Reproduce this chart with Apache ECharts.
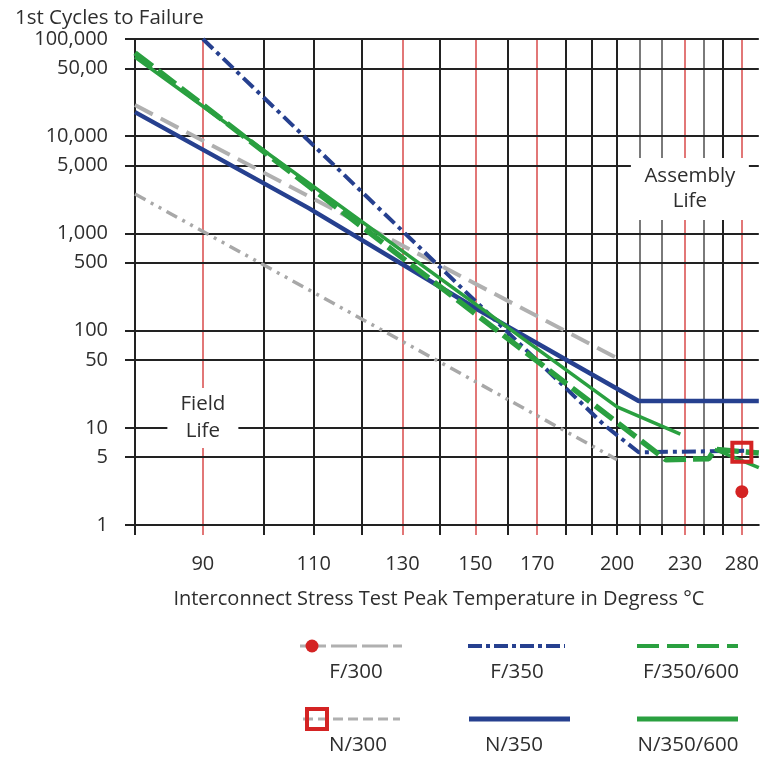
<!DOCTYPE html>
<html>
<head>
<meta charset="utf-8">
<script src="https://cdn.jsdelivr.net/npm/echarts@6/dist/echarts.min.js"></script>
<style>
html,body{margin:0;padding:0;background:#fff;}
#chart{width:762px;height:757px;}
</style>
</head>
<body>
<div id="chart"></div>
<script>
// ---------------- DATA ----------------
// Temperatures (°C) and cycles to failure for each series
const f300Temps = [80, 200];
const f300Cycles = [20900, 52];
const n300Temps = [80, 200];
const n300Cycles = [2540, 4.7];
const f350Temps = [90, 194.8, 209.4, 282.7];
const f350Cycles = [100000, 10.7, 5.6, 5.8];
const n350Temps = [80, 109, 151, 209.4, 300];
const n350Cycles = [17700, 1820, 163, 18.9, 18.9];
const f350600Temps = [80, 221.6, 245, 251.4, 300];
const f350600Cycles = [72000, 4.7, 4.8, 6.0, 5.5];
const n350600Temps = [80, 200, 228, 240, 251.4, 300];
const n350600Cycles = [65300, 16.4, 8.6, null, 6.0, 3.9];
// single failure points at 280 °C
const f300PointTemp = [280];
const f300PointCycles = [2.2];
const n300PointTemp = [280];
const n300PointCycles = [5.6];

// tick labels
const xLabelTemps = [90, 110, 130, 150, 170, 200, 230, 280];
const yTickValues = [1, 5, 10, 50, 100, 500, 1000, 5000, 10000, 50000, 100000];
const yTickLabels = ['1', '5', '10', '50', '100', '500', '1,000', '5,000', '10,000', '50,00', '100,000'];
const seriesNames = ['F/300', 'F/350', 'F/350/600', 'N/300', 'N/350', 'N/350/600'];

// ---------------- AXIS SCALE (non-linear temperature axis of original) ----------------
const xScaleTemps = [80, 90, 100, 110, 120, 130, 140, 150, 160, 170, 180, 190, 200, 210, 220, 230, 240, 260, 280, 300];
const xScalePos   = [0, 68, 129, 179, 227, 268, 305, 341, 373, 403, 432, 458, 483, 506, 528, 551, 570, 589, 608, 625];
const redTemps = [90, 130, 150, 170, 230, 280];
const grayTemps = [210, 220, 240];

function tempToU(t) {
  for (let i = 0; i < xScaleTemps.length - 1; i++) {
    if (t <= xScaleTemps[i + 1]) {
      const f = (t - xScaleTemps[i]) / (xScaleTemps[i + 1] - xScaleTemps[i]);
      return xScalePos[i] + f * (xScalePos[i + 1] - xScalePos[i]);
    }
  }
  return xScalePos[xScalePos.length - 1];
}
function uToTemp(u) {
  let best = 0, bd = Infinity;
  xScalePos.forEach((p, i) => { const d = Math.abs(p - u); if (d < bd) { bd = d; best = i; } });
  return xScaleTemps[best];
}
function pairs(temps, vals) {
  return temps.map((t, i) => [tempToU(t), vals[i] == null ? null : vals[i]]);
}

// ---------------- STYLE ----------------
const FONT = 'Open Sans';
const TXT = '#2e2e2e';
const NAVY = '#26408f';
const GREEN = '#2aa040';
const GRAY = '#b0b0b0';
const RED = '#d42323';
const GRID_BLACK = '#222222';
const GRID_RED = '#d94a4a';
const GRID_GRAY = '#7a7a7a';
const FS = 20;
const FS_BIG = 20.5;

const lastTemp = xScaleTemps[xScaleTemps.length - 1];
const gridTemps = xScaleTemps.filter(t => t !== lastTemp);
const blackTickU = gridTemps.filter(t => redTemps.indexOf(t) < 0).map(tempToU);
const redTickU = redTemps.map(tempToU);

const vLines = gridTemps.filter(t => t !== xScaleTemps[0]).map(t => {
  let c = GRID_BLACK, w = 2;
  if (redTemps.indexOf(t) >= 0) { c = GRID_RED; w = 1.5; }
  else if (grayTemps.indexOf(t) >= 0) { c = GRID_GRAY; w = 2; }
  return { xAxis: tempToU(t), lineStyle: { color: c, width: w, type: 'solid' } };
});
const hLines = yTickValues.map(v => ({ yAxis: v, lineStyle: { color: GRID_BLACK, width: 2, type: 'solid' } }));

const chart = echarts.init(document.getElementById('chart'), null, { renderer: 'canvas' });

const option = {
  animation: false,
  backgroundColor: '#fff',
  textStyle: { fontFamily: FONT },
  title: {
    text: '1st Cycles to Failure',
    left: 10, top: 3,
    textStyle: { fontFamily: FONT, fontSize: FS_BIG, fontWeight: 'normal', color: TXT }
  },
  grid: { left: 135, right: 2, top: 39, bottom: 232, containLabel: false },
  xAxis: [{
    type: 'value', min: 0, max: xScalePos[xScalePos.length - 1],
    position: 'bottom',
    axisLine: { show: true, onZero: false, lineStyle: { color: GRID_BLACK, width: 2 } },
    axisTick: { show: true, inside: false, length: 10, customValues: blackTickU, lineStyle: { color: GRID_BLACK, width: 2 } },
    axisLabel: {
      show: true, customValues: xLabelTemps.map(tempToU), margin: 29,
      formatter: v => String(uToTemp(v)),
      fontFamily: FONT, fontSize: FS, color: TXT
    },
    splitLine: { show: false },
    name: 'Interconnect Stress Test Peak Temperature in Degress °C',
    nameLocation: 'middle', nameGap: 64,
    nameTextStyle: { fontFamily: FONT, fontSize: FS, color: TXT, padding: [0, 16, 0, 0] }
  }, {
    type: 'value', min: 0, max: xScalePos[xScalePos.length - 1],
    position: 'bottom',
    axisLine: { show: false },
    axisTick: { show: true, inside: false, length: 10, customValues: redTickU, lineStyle: { color: GRID_RED, width: 1.5 } },
    axisLabel: { show: false },
    splitLine: { show: false }
  }],
  yAxis: {
    type: 'log', logBase: 10, min: 1, max: 100000,
    axisLine: { show: true, lineStyle: { color: GRID_BLACK, width: 2 } },
    axisTick: { show: true, inside: false, length: 10, customValues: yTickValues, lineStyle: { color: GRID_BLACK, width: 2 } },
    axisLabel: {
      show: true, customValues: yTickValues, margin: 27,
      formatter: v => {
        let best = 0, bd = Infinity;
        yTickValues.forEach((t, i) => { const d = Math.abs(Math.log10(t) - Math.log10(v)); if (d < bd) { bd = d; best = i; } });
        return yTickLabels[best];
      },
      fontFamily: FONT, fontSize: FS, color: TXT
    },
    splitLine: { show: false },
    minorSplitLine: { show: false }
  },
  series: [
    {
      name: 'grid', type: 'line', data: [], silent: true, z: 1,
      markLine: {
        silent: true, symbol: ['none', 'none'], label: { show: false }, z: 1,
        animation: false,
        data: vLines.concat(hLines)
      },
      markPoint: {
        silent: true, z: 2, animation: false,
        data: [
          { coord: [tempToU(90), 12.6], symbol: 'rect', symbolSize: [71, 60],
            itemStyle: { color: '#ffffff' },
            label: { show: true, position: 'inside', formatter: 'Field\nLife', color: TXT, fontFamily: FONT, fontSize: FS_BIG, lineHeight: 27 } },
          { coord: [tempToU(232.6), 2864], symbol: 'rect', symbolSize: [118, 62],
            itemStyle: { color: '#ffffff' },
            label: { show: true, position: 'inside', formatter: 'Assembly\nLife', color: TXT, fontFamily: FONT, fontSize: FS_BIG, lineHeight: 25 } }
        ]
      }
    },
    {
      name: 'F/300', type: 'line', data: pairs(f300Temps, f300Cycles), z: 5,
      symbol: 'none', lineStyle: { color: GRAY, width: 4, type: [20, 9] }
    },
    {
      name: 'N/300', type: 'line', data: pairs(n300Temps, n300Cycles), z: 5,
      symbol: 'none', lineStyle: { color: '#a8a8a8', width: 3.5, type: [12, 6, 3, 6, 3, 6] }
    },
    {
      name: 'N/350', type: 'line', data: pairs(n350Temps, n350Cycles), z: 6,
      symbol: 'none', lineStyle: { color: NAVY, width: 4.5, type: 'solid' }
    },
    {
      name: 'F/350', type: 'line', data: pairs(f350Temps, f350Cycles), z: 6,
      symbol: 'none', lineStyle: { color: NAVY, width: 4, type: [14, 5, 4, 5] }
    },
    {
      name: 'N/350/600', type: 'line', data: pairs(n350600Temps, n350600Cycles), z: 7,
      symbol: 'none', connectNulls: false, lineStyle: { color: GREEN, width: 3.5, type: 'solid' }
    },
    {
      name: 'F/350/600', type: 'line', data: pairs(f350600Temps, f350600Cycles), z: 7,
      symbol: 'none', lineStyle: { color: GREEN, width: 5.5, type: [22, 7] }
    },
    {
      name: 'F/300 point', type: 'scatter', data: pairs(f300PointTemp, f300PointCycles), z: 9,
      symbol: 'circle', symbolSize: 13, itemStyle: { color: RED, opacity: 1 }
    },
    {
      name: 'N/300 point', type: 'scatter', data: pairs(n300PointTemp, n300PointCycles), z: 9,
      symbol: 'rect', symbolSize: 19, itemStyle: { color: 'rgba(255,255,255,0)', borderColor: RED, borderWidth: 4, opacity: 1 }
    }
  ],
  graphic: [
    // legend row 1
    { type: 'line', shape: { x1: 300, y1: 646, x2: 402, y2: 646 }, style: { stroke: GRAY, lineWidth: 3, lineDash: [26, 5] }, z: 10 },
    { type: 'circle', shape: { cx: 312, cy: 646, r: 6.5 }, style: { fill: RED }, z: 11 },
    { type: 'text', style: { text: seriesNames[0], x: 356, y: 672, align: 'center', verticalAlign: 'middle', fill: TXT, fontSize: FS_BIG, fontFamily: FONT }, z: 10 },
    { type: 'line', shape: { x1: 468, y1: 646, x2: 565, y2: 646 }, style: { stroke: NAVY, lineWidth: 4, lineDash: [14, 4, 4, 4] }, z: 10 },
    { type: 'text', style: { text: seriesNames[1], x: 517, y: 672, align: 'center', verticalAlign: 'middle', fill: TXT, fontSize: FS_BIG, fontFamily: FONT }, z: 10 },
    { type: 'line', shape: { x1: 637, y1: 646, x2: 738, y2: 646 }, style: { stroke: GREEN, lineWidth: 4, lineDash: [22, 8] }, z: 10 },
    { type: 'text', style: { text: seriesNames[2], x: 691, y: 672, align: 'center', verticalAlign: 'middle', fill: TXT, fontSize: FS_BIG, fontFamily: FONT }, z: 10 },
    // legend row 2
    { type: 'line', shape: { x1: 303, y1: 719, x2: 400, y2: 719 }, style: { stroke: GRAY, lineWidth: 3, lineDash: [10, 5] }, z: 10 },
    { type: 'rect', shape: { x: 307, y: 709, width: 20, height: 20 }, style: { fill: 'none', stroke: RED, lineWidth: 4 }, z: 11 },
    { type: 'text', style: { text: seriesNames[3], x: 358, y: 745, align: 'center', verticalAlign: 'middle', fill: TXT, fontSize: FS_BIG, fontFamily: FONT }, z: 10 },
    { type: 'line', shape: { x1: 469, y1: 719, x2: 570, y2: 719 }, style: { stroke: NAVY, lineWidth: 5 }, z: 10 },
    { type: 'text', style: { text: seriesNames[4], x: 514, y: 745, align: 'center', verticalAlign: 'middle', fill: TXT, fontSize: FS_BIG, fontFamily: FONT }, z: 10 },
    { type: 'line', shape: { x1: 637, y1: 719, x2: 738, y2: 719 }, style: { stroke: GREEN, lineWidth: 5 }, z: 10 },
    { type: 'text', style: { text: seriesNames[5], x: 688, y: 745, align: 'center', verticalAlign: 'middle', fill: TXT, fontSize: FS_BIG, fontFamily: FONT }, z: 10 }
  ]
};
chart.setOption(option);
</script>
</body>
</html>
